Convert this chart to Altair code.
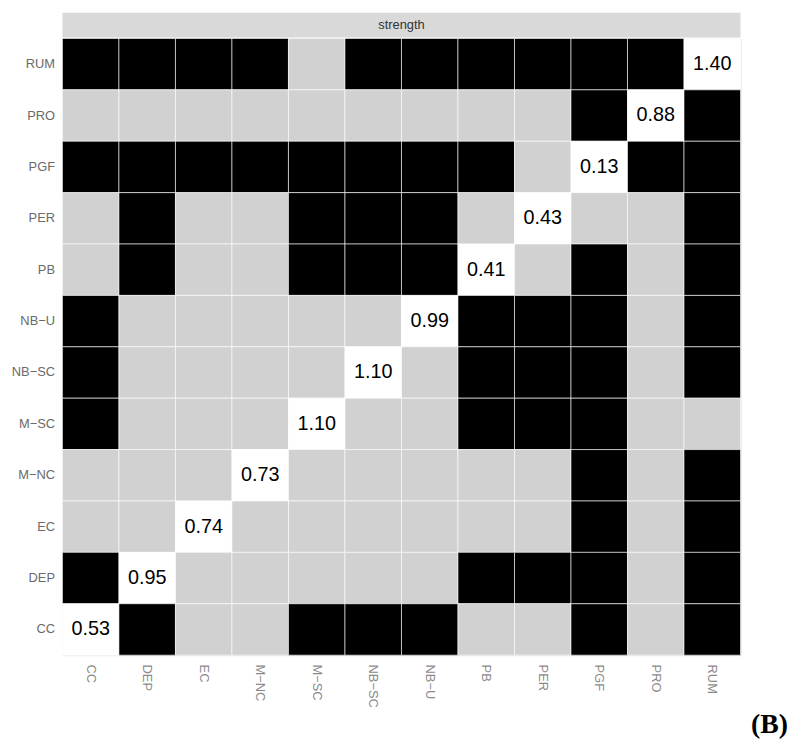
import altair as alt
import pandas as pd

labels = ["CC", "DEP", "EC", "M\u2212NC", "M\u2212SC", "NB\u2212SC", "NB\u2212U",
          "PB", "PER", "PGF", "PRO", "RUM"]

# row label -> cell states across columns (B = black, G = grey, D = diagonal)
grid = {
    "RUM":          "BBBBGBBBBBBD",
    "PRO":          "GGGGGGGGGBDB",
    "PGF":          "BBBBBBBBGDBB",
    "PER":          "GBGGBBBGDGGB",
    "PB":           "GBGGBBBDGBGB",
    "NB\u2212U":    "BGGGGGDBBBGB",
    "NB\u2212SC":   "BGGGGDGBBBGB",
    "M\u2212SC":    "BGGGDGGBBBGG",
    "M\u2212NC":    "GGGDGGGGGBGB",
    "EC":           "GGDGGGGGGBGB",
    "DEP":          "BDGGGGGBBBGB",
    "CC":           "DBGGBBBGGBGB",
}

diag_values = {"CC": 0.53, "DEP": 0.95, "EC": 0.74, "M\u2212NC": 0.73,
               "M\u2212SC": 1.10, "NB\u2212SC": 1.10, "NB\u2212U": 0.99,
               "PB": 0.41, "PER": 0.43, "PGF": 0.13, "PRO": 0.88, "RUM": 1.40}

rows = []
for r, states in grid.items():
    for c, s in zip(labels, states):
        rows.append({"row": r, "col": c, "state": s,
                     "value": f"{diag_values[r]:.2f}" if s == "D" else ""})
df = pd.DataFrame(rows)

W, H = 685, 623

xscale = alt.Scale(domain=labels, paddingInner=0, paddingOuter=0)
yscale = alt.Scale(domain=list(reversed(labels)), paddingInner=0, paddingOuter=0)

base = alt.Chart(df)

tiles = base.mark_rect(stroke="white", strokeWidth=0.6).encode(
    x=alt.X("col:N", scale=xscale, sort=labels, title=None,
            axis=alt.Axis(labelAngle=90, ticks=False, domain=False, labelPadding=9,
                          labelColor="#8a8a8a", labelFontSize=13,
                          labelFont="Liberation Sans", grid=False)),
    y=alt.Y("row:N", scale=yscale, sort=list(reversed(labels)), title=None,
            axis=alt.Axis(ticks=False, domain=False, labelPadding=8,
                          labelColor="#6a6a6a", labelFontSize=13,
                          labelFont="Liberation Sans", grid=False)),
    color=alt.Color("state:N",
                    scale=alt.Scale(domain=["B", "G", "D"],
                                    range=["#000000", "#d1d1d1", "#ffffff"]),
                    legend=None),
)

texts = base.transform_filter("datum.state == 'D'").mark_text(
    fontSize=20, font="Liberation Sans", color="#000000"
).encode(
    x=alt.X("col:N", scale=xscale, sort=labels),
    y=alt.Y("row:N", scale=yscale, sort=list(reversed(labels))),
    text="value:N",
)

strip = alt.Chart(pd.DataFrame({"t": ["strength"]})).mark_rect(color="#d9d9d9").encode(
    x=alt.value(0), x2=alt.value(W), y=alt.value(-26), y2=alt.value(-1)
)
strip_text = alt.Chart(pd.DataFrame({"t": ["strength"]})).mark_text(
    fontSize=13, font="Liberation Sans", color="#333333", baseline="middle"
).encode(x=alt.value(W / 2), y=alt.value(-13.5), text="t:N")

tag = alt.Chart(pd.DataFrame({"t": ["(B)"]})).mark_text(
    fontSize=28, font="Liberation Serif", fontWeight="bold", color="#000000",
    align="right", baseline="alphabetic"
).encode(x=alt.value(W + 48), y=alt.value(H + 79), text="t:N")

chart = alt.layer(tiles, texts, strip, strip_text, tag).properties(
    width=W, height=H, padding={"left": 3, "top": 1, "right": 2, "bottom": 2}
).configure_view(strokeWidth=0).configure(background="white")

chart.save("out.html", embed_options={"renderer": "svg", "actions": False})
